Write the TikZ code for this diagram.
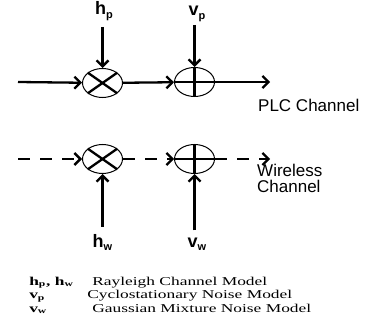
\documentclass[tikz,border=0pt]{standalone}
\usepackage{fontspec}
\setmainfont{Liberation Serif}
\setsansfont{Liberation Sans}
\usetikzlibrary{shapes,arrows.meta,positioning}

\newcommand{\lowsub}[1]{\raisebox{-3.5pt}{\fontsize{11}{11}\selectfont #1}}

\begin{document}
\begin{tikzpicture}[x=1pt,y=-1pt]
\tikzstyle{op} = [ellipse, draw, line width=1pt, minimum width=40pt, minimum height=29pt, inner sep=0pt]
\tikzstyle{bar} = [line width=2.3pt]
\tikzstyle{arrow} = [line width=2.3pt, -{Straight Barb[length=6pt,width=12pt]}]
\tikzstyle{darrow} = [arrow, dash pattern=on 12pt off 10pt]
\tikzstyle{sym} = [font=\sffamily\bfseries\fontsize{18}{18}\selectfont, inner sep=0pt, anchor=base]
\tikzstyle{lbl} = [font=\sffamily\fontsize{17}{16}\selectfont, align=left, anchor=base west, inner sep=0pt]
\tikzstyle{legend} = [font=\fontsize{12}{12}\selectfont, anchor=base west, inner sep=0pt, xscale=1.45]

\useasboundingbox (0,0) rectangle (366,331);

% PLC channel
\node[op] (mulp) at (102.5,83) {};
\node[op] (addp) at (194.5,82) {};
\draw[bar] (mulp.145) -- (mulp.325);
\draw[bar] (mulp.35) -- (mulp.215);
\draw[bar] (addp.north) -- (addp.south);
\draw[bar] (addp.west) -- (addp.east);

\coordinate (inp) at (18,82);
\coordinate (outp) at (270,82);
\draw[arrow] (inp) -- (mulp);
\draw[arrow] (mulp) -- (addp);
\draw[arrow] (addp.east) -- (outp);

\node[sym] (hp) at (104,15) {h\lowsub{p}};
\node[sym] (vp) at (197,16) {v\lowsub{p}};
\draw[arrow, shorten <=6pt] (mulp |- hp.south) -- (mulp.north);
\draw[arrow, shorten <=3pt] (addp |- vp.south) -- (addp.north);

\node[lbl] (plc) at (258,112) {PLC Channel};

% wireless channel
\node[op] (mulw) at (102.5,159) {};
\node[op] (addw) at (194.5,159) {};
\draw[bar] (mulw.145) -- (mulw.325);
\draw[bar] (mulw.35) -- (mulw.215);
\draw[bar] (addw.north) -- (addw.south);
\draw[bar] (addw.west) -- (addw.east);

\coordinate (inw) at (18,159);
\coordinate (outw) at (270,159);
\draw[darrow] (inw) -- (mulw);
\draw[darrow] (mulw) -- (addw);
\draw[darrow] (addw.east) -- (outw);

\node[sym] (hw) at (102.5,247) {h\lowsub{w}};
\node[sym] (vw) at (197,247) {v\lowsub{w}};
\draw[arrow, shorten <=7pt] (mulw |- hw.north) -- (mulw.south);
\draw[arrow, shorten <=7pt] (addw |- vw.north) -- (addw.south);

\node[lbl] (wl) at (257,192) {Wireless\\Channel};

% legend
\node[legend] (k1) at (29,285) {\textbf{h\textsubscript{p}, h\textsubscript{w}}};
\node[legend] (t1) at (92,285) {Rayleigh Channel Model};
\node[legend] (k2) at (29,298.5) {\textbf{v\textsubscript{p}}};
\node[legend] (t2) at (87,298.5) {Cyclostationary Noise Model};
\node[legend] (k3) at (29,312) {\textbf{v\textsubscript{w}}};
\node[legend] (t3) at (92,312) {Gaussian Mixture Noise Model};
\end{tikzpicture}
\end{document}
